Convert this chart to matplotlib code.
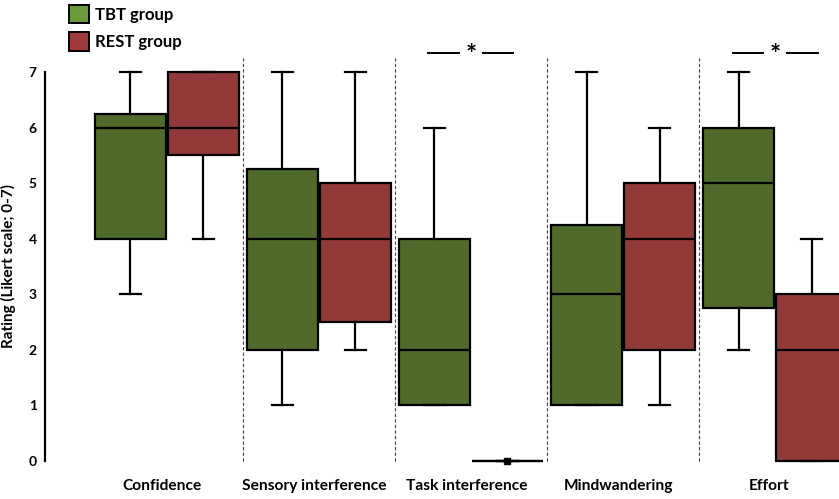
import matplotlib
matplotlib.use('Agg')

import numpy as np
import matplotlib.pyplot as plt
from matplotlib.patches import Patch

plt.rcParams['font.family'] = ['Lato', 'DejaVu Sans']

categories = ['Confidence', 'Sensory interference', 'Task interference',
              'Mindwandering', 'Effort']
groups = ['TBT group', 'REST group']

# box stats per category: whisker low, q1, median, q3, whisker high
tbt_whislo = [3, 1, 1, 1, 2]
tbt_q1     = [4, 2, 1, 1, 2.75]
tbt_med    = [6, 4, 2, 3, 5]
tbt_q3     = [6.25, 5.25, 4, 4.25, 6]
tbt_whishi = [7, 7, 6, 7, 7]

rest_whislo = [4, 2, 0, 1, 0]
rest_q1     = [5.5, 2.5, 0, 2, 0]
rest_med    = [6, 4, 0, 4, 2]
rest_q3     = [7, 5, 0, 5, 3]
rest_whishi = [7, 7, 0, 6, 4]

significant = [2, 4]  # categories marked with *

yticks = [0, 1, 2, 3, 4, 5, 6, 7]

tbt_color = '#4f6a2b'
rest_color = '#933938'
tbt_legend = '#6a9a3a'
rest_legend = '#a03a3a'

def make_stats(lo, q1, med, q3, hi):
    return [dict(whislo=a, q1=b, med=c, q3=d, whishi=e, fliers=[])
            for a, b, c, d, e in zip(lo, q1, med, q3, hi)]

fig = plt.figure(figsize=(8.39, 4.99), dpi=100)
ax = fig.add_axes([45/839, 38/499, 1 - 45/839, 389/499])

x = np.arange(len(categories))
off = 0.24
width = 0.465

common = dict(widths=width, patch_artist=True, showfliers=False,
              boxprops=dict(edgecolor='black', linewidth=1.6),
              medianprops=dict(color='black', linewidth=1.6),
              whiskerprops=dict(color='black', linewidth=1.6),
              capprops=dict(color='black', linewidth=1.6),
              capwidths=0.14, manage_ticks=False)

b1 = ax.bxp(make_stats(tbt_whislo, tbt_q1, tbt_med, tbt_q3, tbt_whishi),
            positions=x - off, **common)
b2 = ax.bxp(make_stats(rest_whislo, rest_q1, rest_med, rest_q3, rest_whishi),
            positions=x + off, **common)
for p in b1['boxes']:
    p.set_facecolor(tbt_color)
for p in b2['boxes']:
    p.set_facecolor(rest_color)
for k in ('boxes', 'medians', 'whiskers', 'caps'):
    for a in b1[k] + b2[k]:
        a.set_clip_on(False)

# the flat REST box for task interference gets a small median mark
for i, (lo, hi) in enumerate(zip(rest_whislo, rest_whishi)):
    if lo == hi:
        ax.plot([i + off], [rest_med[i]], marker='s', ms=4, color='black',
                clip_on=False)

# dashed separators between categories
for s in x[:-1] + 0.5:
    ax.plot([s, s], [0, 7.25], color='#444444', lw=0.8, ls=(0, (3, 2)),
            clip_on=False)

# significance markers
for i in significant:
    ax.plot([i - 0.28, i - 0.08], [7.34, 7.34], color='black', lw=1.4,
            clip_on=False)
    ax.plot([i + 0.08, i + 0.28], [7.34, 7.34], color='black', lw=1.4,
            clip_on=False)
    ax.text(i, 7.30, '*', ha='center', va='center', fontsize=19,
            fontweight='bold', clip_on=False)

ax.set_xlim(-0.8, 4.42)
ax.set_ylim(0, 7)
ax.set_yticks(yticks)
ax.set_yticklabels([str(t) for t in yticks], fontweight='bold', fontsize=10)
ax.tick_params(axis='y', length=0, pad=6)
ax.set_xticks([])
for i, c in enumerate(categories):
    ax.text(i - 0.04 if i == 4 else i - 0.03, -0.45, c, ha='center', va='center',
            fontsize=11.2, fontweight='bold', clip_on=False)

ax.set_ylabel('Rating (Likert scale; 0-7)', fontsize=11, fontweight='bold')
ax.yaxis.set_label_coords(-0.036, 0.5)
for sp in ('top', 'right', 'bottom'):
    ax.spines[sp].set_visible(False)
ax.spines['left'].set_linewidth(1.6)

handles = [Patch(facecolor=tbt_legend, edgecolor='black', lw=1.4),
           Patch(facecolor=rest_legend, edgecolor='black', lw=1.4)]
fig.legend(handles, groups, loc='upper left', bbox_to_anchor=(54/839, 1.02),
           frameon=False, prop=dict(weight='bold', size=12),
           handlelength=1.2, handleheight=1.3, labelspacing=0.55,
           handletextpad=0.35)

fig.savefig('out.png', dpi=100)
